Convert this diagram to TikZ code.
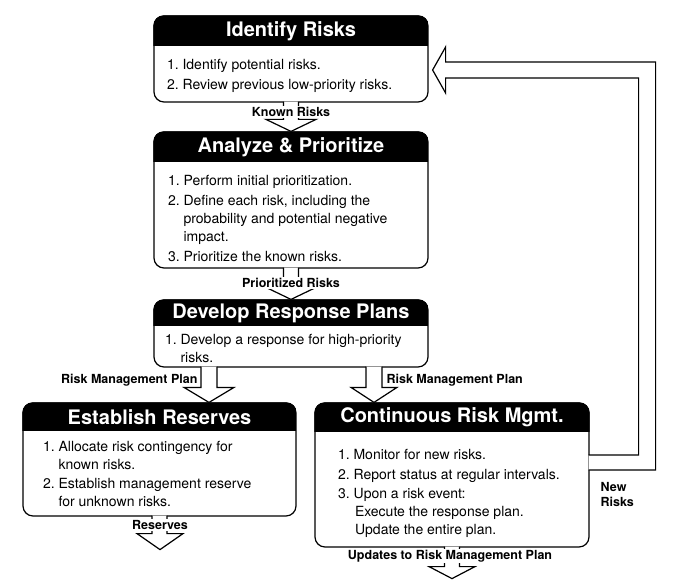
\documentclass[tikz,border=0pt]{standalone}
\usepackage{fontspec}
\setmainfont{TeX Gyre Heros}
\usetikzlibrary{calc}

\begin{document}
\begin{tikzpicture}[x=1pt,y=-1pt,line width=1.2pt,
  box/.style={draw,rounded corners=10pt,inner sep=0pt},
  head/.style={text=white,inner sep=0pt,font=\fontsize{20}{22}\selectfont\bfseries},
  body/.style={anchor=north west,align=left,inner sep=0pt,font=\fontsize{14}{18}\selectfont},
  lbl/.style={inner sep=1pt,font=\fontsize{12.5}{15}\selectfont\bfseries},
  hollow/.style={draw,fill=white,line join=miter}]
\useasboundingbox (0,0) rectangle (679,588);

% the five process boxes
\node [box,minimum width=274pt,minimum height=86pt] (ident) at (291,59) {};
\node [box,minimum width=274pt,minimum height=136pt] (analyze) at (291,200) {};
\node [box,minimum width=274pt,minimum height=67pt] (develop) at (291,333.5) {};
\node [box,minimum width=273pt,minimum height=113pt] (estab) at (159.5,459.5) {};
\node [box,minimum width=274pt,minimum height=144pt] (cont) at (452,475) {};

% black title bars
\begin{scope}
\clip [rounded corners=10pt] (ident.north west) rectangle (ident.south east);
\fill ($(ident.north west)+(0,31)$) rectangle (ident.north east);
\end{scope}
\begin{scope}
\clip [rounded corners=10pt] (analyze.north west) rectangle (analyze.south east);
\fill ($(analyze.north west)+(0,31)$) rectangle (analyze.north east);
\end{scope}
\begin{scope}
\clip [rounded corners=10pt] (develop.north west) rectangle (develop.south east);
\fill ($(develop.north west)+(0,27)$) rectangle (develop.north east);
\end{scope}
\begin{scope}
\clip [rounded corners=10pt] (estab.north west) rectangle (estab.south east);
\fill ($(estab.north west)+(0,29)$) rectangle (estab.north east);
\end{scope}
\begin{scope}
\clip [rounded corners=10pt] (cont.north west) rectangle (cont.south east);
\fill ($(cont.north west)+(0,30)$) rectangle (cont.north east);
\end{scope}

\node [head] (identH) at ($(ident.north)+(0,16)$) {Identify Risks};
\node [head] (analyzeH) at ($(analyze.north)+(0,16)$) {Analyze \& Prioritize};
\node [head] (developH) at ($(develop.north)+(0,14)$) {Develop Response Plans};
\node [head] (estabH) at ($(estab.north)+(0,15)$) {Establish Reserves};
\node [head] (contH) at ($(cont.north)+(0,15)$) {Continuous Risk Mgmt.};

\node [body] (identB) at ($(ident.north west)+(13,43)$)
  {1.~Identify potential risks.\\[2pt]
   2.~Review previous low-priority risks.};
\node [body] (analyzeB) at ($(analyze.north west)+(14,43)$)
  {1.~Perform initial prioritization.\\[2pt]
   2.~Define each risk, including the\\
   \hphantom{2.~}probability and potential negative\\
   \hphantom{2.~}impact.\\[2pt]
   3.~Prioritize the known risks.};
\node [body] (developB) at ($(develop.north west)+(11,34)$)
  {1.~Develop a response for high-priority\\
   \hphantom{1.~}risks.};
\node [body] (estabB) at ($(estab.north west)+(20,38)$)
  {1.~Allocate risk contingency for\\
   \hphantom{1.~}known risks.\\[1.5pt]
   2.~Establish management reserve\\
   \hphantom{2.~}for unknown risks.};
\node [body] (contB) at ($(cont.north west)+(23,46)$)
  {1.~Monitor for new risks.\\[2pt]
   2.~Report status at regular intervals.\\[1pt]
   3.~Upon a risk event:\\
   \hspace*{17pt}Execute the response plan.\\
   \hspace*{17pt}Update the entire plan.};

% block arrows
\draw [hollow] ($(ident.south)+(-7.5,-1)$) |- ($(analyze.north)+(-25,-12)$) -- (analyze.north)
  -- ($(analyze.north)+(25,-12)$) -| ($(ident.south)+(7.5,-1)$);
\draw [hollow] ($(analyze.south)+(-7.5,-1)$) |- ($(develop.north)+(-25,-12)$) -- (develop.north)
  -- ($(develop.north)+(25,-12)$) -| ($(analyze.south)+(7.5,-1)$);

\coordinate (devL) at ($(develop.south)+(-82,0)$);
\coordinate (devR) at ($(develop.south)+(83,0)$);
\coordinate (tipL) at (devL |- estab.north);
\coordinate (tipR) at (devR |- cont.north);
\draw [hollow] ($(devL)+(-8,-1)$) |- ($(tipL)+(-25,-15)$) -- (tipL)
  -- ($(tipL)+(25,-15)$) -| ($(devL)+(8,-1)$);
\draw [hollow] ($(devR)+(-8,-1)$) |- ($(tipR)+(-23,-15)$) -- (tipR)
  -- ($(tipR)+(23,-15)$) -| ($(devR)+(8,-1)$);

\coordinate (resEnd) at ($(estab.south)+(0.5,33)$);
\coordinate (updEnd) at ($(cont.south)+(0,31)$);
\draw [hollow] ($(estab.south)+(-7.5,-1)$) |- ($(resEnd)+(-23,-16)$) -- (resEnd)
  -- ($(resEnd)+(23,-16)$) -| ($(estab.south)+(7.5,-1)$);
\draw [hollow] ($(cont.south)+(-7.5,-1)$) |- ($(updEnd)+(-23,-12)$) -- (updEnd)
  -- ($(updEnd)+(23,-12)$) -| ($(cont.south)+(7.5,-1)$);

% feedback of new risks
\coordinate (nrTip) at ($(ident.east)+(4,11)$);
\draw [hollow] ($(cont.east)+(-1,-20)$) -| ($(nrTip)+(206,8)$) -| ($(nrTip)+(13,23)$) -- (nrTip)
  -- ($(nrTip)+(13,-23)$) |- ($(nrTip)+(223,-8)$) |- ($(cont.east)+(-1,-5)$);

% arrow labels
\node [lbl,fill=white] (krL) at (291,112) {Known Risks};
\node [lbl,fill=white] (prL) at (291,283) {Prioritized Risks};
\node [lbl,anchor=east] (rmpL) at (199,380) {Risk Management Plan};
\node [lbl,anchor=west] (rmpR) at (385,380) {Risk Management Plan};
\node [lbl,fill=white] (resL) at (160,525) {Reserves};
\node [lbl,fill=white] (updL) at (450,556) {Updates to Risk Management Plan};
\node [lbl,anchor=north west,align=left] (nrL) at (599,481) {New\\Risks};
\end{tikzpicture}
\end{document}
